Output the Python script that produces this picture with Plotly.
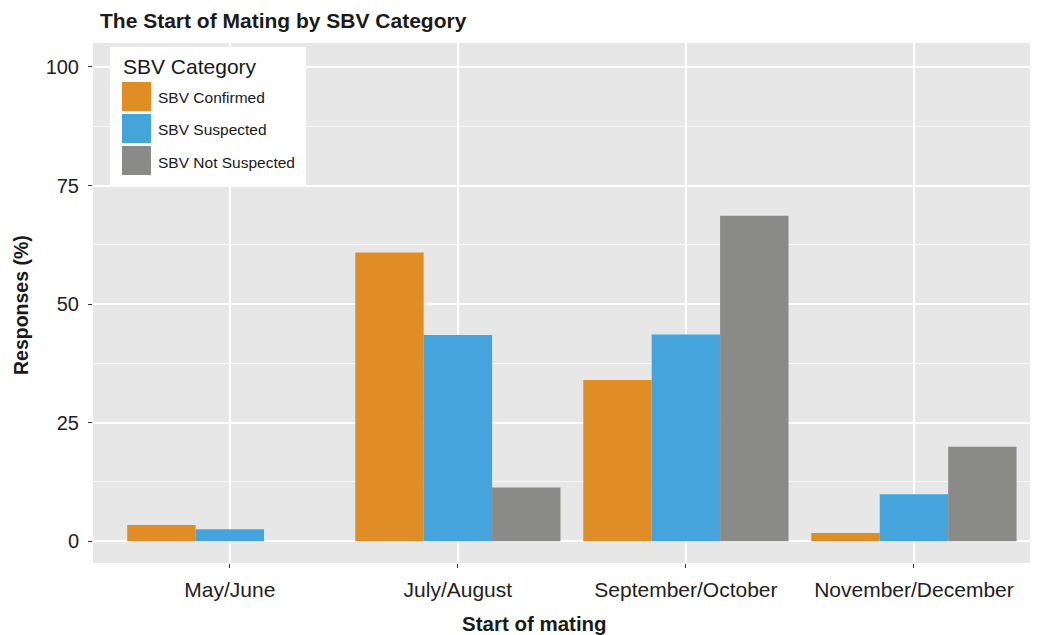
import plotly.graph_objects as go

categories = ["May/June", "July/August", "September/October", "November/December"]
series_names = ["SBV Confirmed", "SBV Suspected", "SBV Not Suspected"]
confirmed = [3.4, 60.9, 34.0, 1.7]
suspected = [2.5, 43.5, 43.6, 9.9]
not_suspected = [0.0, 11.3, 68.6, 19.9]
series_values = [confirmed, suspected, not_suspected]
colors = ["#E08D25", "#45A4DB", "#8A8A89"]
y_ticks = [0, 25, 50, 75, 100]

FONT = "Liberation Sans, Arial, Helvetica, sans-serif"
# page has an 8px body margin: work in reference pixel coords, shifted by OX/OY
OX, OY = 8, 8
W, H = 1038 - OX, 635 - OY
PL, PR, PT, PB = 93, 1038, 43, 563  # panel edges in reference pixels
L, R, T, B = PL - OX, 0, PT - OY, 635 - PB

fig = go.Figure()
for name, vals, col in zip(series_names, series_values, colors):
    fig.add_trace(go.Bar(x=categories, y=vals, name=name, marker=dict(color=col, line=dict(width=0)),
                         showlegend=False))

fig.update_layout(
    width=W, height=H,
    margin=dict(l=L, r=R, t=T, b=B, pad=0),
    paper_bgcolor="white",
    plot_bgcolor="#E7E7E7",
    barmode="group", bargap=0.1, bargroupgap=0,
    font=dict(family=FONT, color="#222222"),
    title=dict(text="<b>The Start of Mating by SBV Category</b>", x=(100 - OX) / W, xanchor="left",
               xref="container", y=1 - (21 - OY) / H, yanchor="middle", yref="container",
               font=dict(size=21, color="#1a1a1a", family=FONT)),
)

fig.update_xaxes(
    type="category", range=[-0.6, 3.544],
    showgrid=True, gridcolor="white", gridwidth=2,
    ticks="outside", ticklen=4, tickwidth=1, tickcolor="#333333",
    tickfont=dict(size=21, color="#222222", family=FONT), ticklabelstandoff=4,
    showline=False, zeroline=False,
)
fig.update_yaxes(
    range=[-4.6, 105.05], tickvals=y_ticks,
    showgrid=True, gridcolor="white", gridwidth=2,
    minor=dict(dtick=12.5, tick0=0, showgrid=True, gridcolor="#F6F6F6", gridwidth=1, ticks=""),
    ticks="outside", ticklen=4, tickwidth=1, tickcolor="#333333",
    tickfont=dict(size=20, color="#222222", family=FONT), ticklabelstandoff=5,
    showline=False, zeroline=False,
)

pw, ph = PR - PL, PB - PT
def px(x):
    return (x - PL) / pw
def py(y):
    return (PB - y) / ph

# axis titles
fig.add_annotation(text="<b>Start of mating</b>", xref="paper", yref="paper",
                   x=px(534), y=py(623), xanchor="center", yanchor="middle", showarrow=False,
                   font=dict(size=20.5, color="#1a1a1a", family=FONT))
fig.add_annotation(text="<b>Responses (%)</b>", xref="paper", yref="paper",
                   x=px(21), y=py(305), xanchor="center", yanchor="middle", textangle=-90,
                   showarrow=False, font=dict(size=19.5, color="#1a1a1a", family=FONT))

# custom legend (ggplot style, big swatches)
fig.add_shape(type="rect", xref="paper", yref="paper", x0=px(110), x1=px(306), y0=py(185), y1=py(47),
              fillcolor="white", line=dict(width=0), layer="above")
fig.add_annotation(text="SBV Category", xref="paper", yref="paper", x=px(121), y=py(67),
                   xanchor="left", yanchor="middle", showarrow=False,
                   font=dict(size=21, color="#1a1a1a", family=FONT))
for i, (name, col) in enumerate(zip(series_names, colors)):
    top = 82 + i * 32
    fig.add_shape(type="rect", xref="paper", yref="paper", x0=px(122), x1=px(151),
                  y0=py(top + 29), y1=py(top), fillcolor=col, line=dict(width=0), layer="above")
    fig.add_annotation(text=name, xref="paper", yref="paper", x=px(156), y=py(top + 16),
                       xanchor="left", yanchor="middle", showarrow=False,
                       font=dict(size=15.5, color="#1a1a1a", family=FONT))

fig.write_html("out.html")
